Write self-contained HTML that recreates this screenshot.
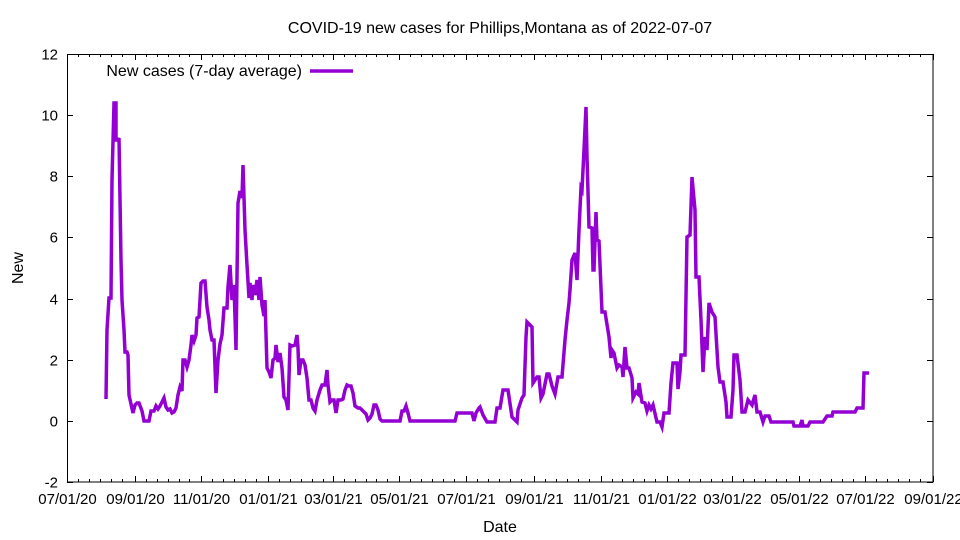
<!DOCTYPE html>
<html><head><meta charset="utf-8"><style>
body{margin:0;background:#fff;}
svg{display:block;font-family:"Liberation Sans",sans-serif;}
</style></head><body>
<svg id="s" width="960" height="540" xmlns="http://www.w3.org/2000/svg">
<rect x="0" y="0" width="960" height="540" fill="#fff"/>
<text x="500" y="33" font-size="16" text-anchor="middle">COVID-19 new cases for Phillips,Montana as of 2022-07-07</text>
<text x="23" y="268" font-size="16" text-anchor="middle" transform="rotate(-90 23 268)">New</text>
<text x="500" y="532" font-size="16" text-anchor="middle">Date</text>
<text x="302" y="76" font-size="16" text-anchor="end">New cases (7-day average)</text>
<line x1="310" y1="71" x2="353" y2="71" stroke="#9400d3" stroke-width="3.5"/>
<g id="ax" stroke="#000" stroke-width="1"></g>
<g id="lbl" font-size="15"></g>
<polyline id="pl" fill="none" stroke="#9400d3" stroke-width="3.5" stroke-linejoin="miter" points=""/>
<rect x="67.5" y="54.5" width="865.5" height="427.5" fill="none" stroke="#000" stroke-width="1"/>
</svg>
<script>
var ns="http://www.w3.org/2000/svg",ax=document.getElementById('ax'),lb=document.getElementById('lbl');
function ln(x1,y1,x2,y2){var l=document.createElementNS(ns,'line');l.setAttribute('x1',x1);l.setAttribute('y1',y1);l.setAttribute('x2',x2);l.setAttribute('y2',y2);ax.appendChild(l);}
function tx(x,y,t,a){var e=document.createElementNS(ns,'text');e.setAttribute('x',x);e.setAttribute('y',y);e.setAttribute('text-anchor',a);e.textContent=t;lb.appendChild(e);}
for(var v=-2;v<=12;v+=2){var y=482-(v+2)*30.571;y=Math.round(y)+0.5;ln(67,y,73,y);ln(927,y,933,y);tx(58,y+5,String(v),'end');}
var days=[0,62,123,184,243,304,365,427,488,549,608,669,730,792];
var names=['07/01/20','09/01/20','11/01/20','01/01/21','03/01/21','05/01/21','07/01/21','09/01/21','11/01/21','01/01/22','03/01/22','05/01/22','07/01/22','09/01/22'];
var k=866/792;
for(var i=0;i<days.length;i++){var x=Math.round(67+days[i]*k)+0.5;ln(x,482,x,476);ln(x,54,x,60);tx(x,504,names[i],'middle');
 if(i<days.length-1){for(var d=days[i]+10;d<days[i+1]-4;d+=10){var xm=Math.round(67+d*k)+0.5;ln(xm,482,xm,479);ln(xm,54,xm,57);}}}
var p=[[106,399],[107,330],[109,298],[111,298],[112,180],[114,103],[116,103],[116,140],[118,140],[119,138],[121,260],[122,300],[124,330],[125,352],[127,352],[128,355],[129,395],[131,404],[133,413],[135,405],[137,403],[139,403],[142,411],[144,421],[149,421],[151,411],[154,411],[156,406],[158,409],[160,406],[162,402],[164,398],[166,407],[168,410],[170,409],[172,413],[174,412],[176,408],[178,395],[180,387],[182,391],[183,360],[185,360],[187,367],[189,360],[191,345],[192,335],[194,341],[196,335],[197,318],[199,317],[201,283],[203,281],[205,281],[207,307],[209,320],[210,330],[212,340],[214,340],[216,393],[218,360],[220,344],[222,335],[224,308],[227,308],[228,287],[230,265],[232,300],[234,285],[236,350],[238,203],[240,191],[242,198],[243,165],[245,230],[247,265],[249,298],[250,283],[252,300],[253,285],[255,295],[257,280],[259,300],[260,277],[262,305],[264,316],[265,300],[267,368],[269,372],[271,378],[273,360],[275,358],[276,345],[278,362],[280,353],[282,368],[284,397],[286,400],[288,410],[290,345],[292,346],[295,345],[297,335],[298,348],[299,375],[301,360],[303,360],[305,365],[307,378],[309,400],[311,400],[313,408],[315,411],[317,400],[320,390],[322,385],[325,385],[327,370],[328,385],[330,402],[332,400],[334,400],[336,413],[338,400],[341,400],[343,399],[345,390],[347,385],[349,386],[351,386],[353,393],[355,406],[358,408],[360,408],[364,412],[366,414],[368,420],[370,418],[372,414],[374,405],[376,405],[378,410],[380,419],[382,421],[400,421],[402,411],[404,411],[406,406],[408,413],[410,421],[455,421],[457,413],[462,413],[472,413],[474,421],[476,413],[479,408],[480,407],
[483,415],[487,422],[495,422],[497,408],[500,408],[503,390],[508,390],[512,417],[517,422],[518,410],[522,398],[524,395],[526,337],[527,322],[530,325],[532,327],[533,383],[537,377],[539,377],[541,398],[543,394],[547,374],[549,374],[552,386],[555,394],[558,377],[562,377],[565,340],[567,320],[569,303],[570,290],[572,260],[575,253],[577,280],[579,230],[581,188],[582,190],[584,150],[586,107],[587,157],[589,227],[592,228],[593,270],[594,270],[596,212],[597,240],[599,241],[602,312],[605,312],[609,337],[611,358],[612,350],[614,353],[617,368],[619,365],[622,367],[623,377],[625,347],[627,368],[629,368],[632,378],[633,398],[636,392],[638,394],[639,383],[642,402],[645,403],[647,411],[649,405],[651,409],[653,405],[657,422],[660,422],[662,427],[664,413],[669,413],[671,383],[673,363],[677,363],[678,389],[680,372],[681,355],[685,355],[687,237],[690,235],[692,177],[695,210],[696,277],[699,277],[701,320],[703,372],[705,337],[707,350],[709,303],[712,312],[715,317],[718,367],[720,382],[723,382],[726,402],[727,417],[731,417],[733,390],[734,355],[737,355],[740,380],[742,412],[745,412],[748,400],[752,405],[755,395],[757,412],[760,412],[763,422],[765,416],[769,416],[771,422],[793,422],[794,426],[800,426],[802,420],[803,426],[808,426],[810,422],[823,422],[827,416],[832,416],[833,412],[855,412],[857,408],[863,408],[864,373],[869,373]];
document.getElementById('pl').setAttribute('points',p.map(function(a){return a[0]+','+a[1];}).join(' '));
</script>
</body></html>
